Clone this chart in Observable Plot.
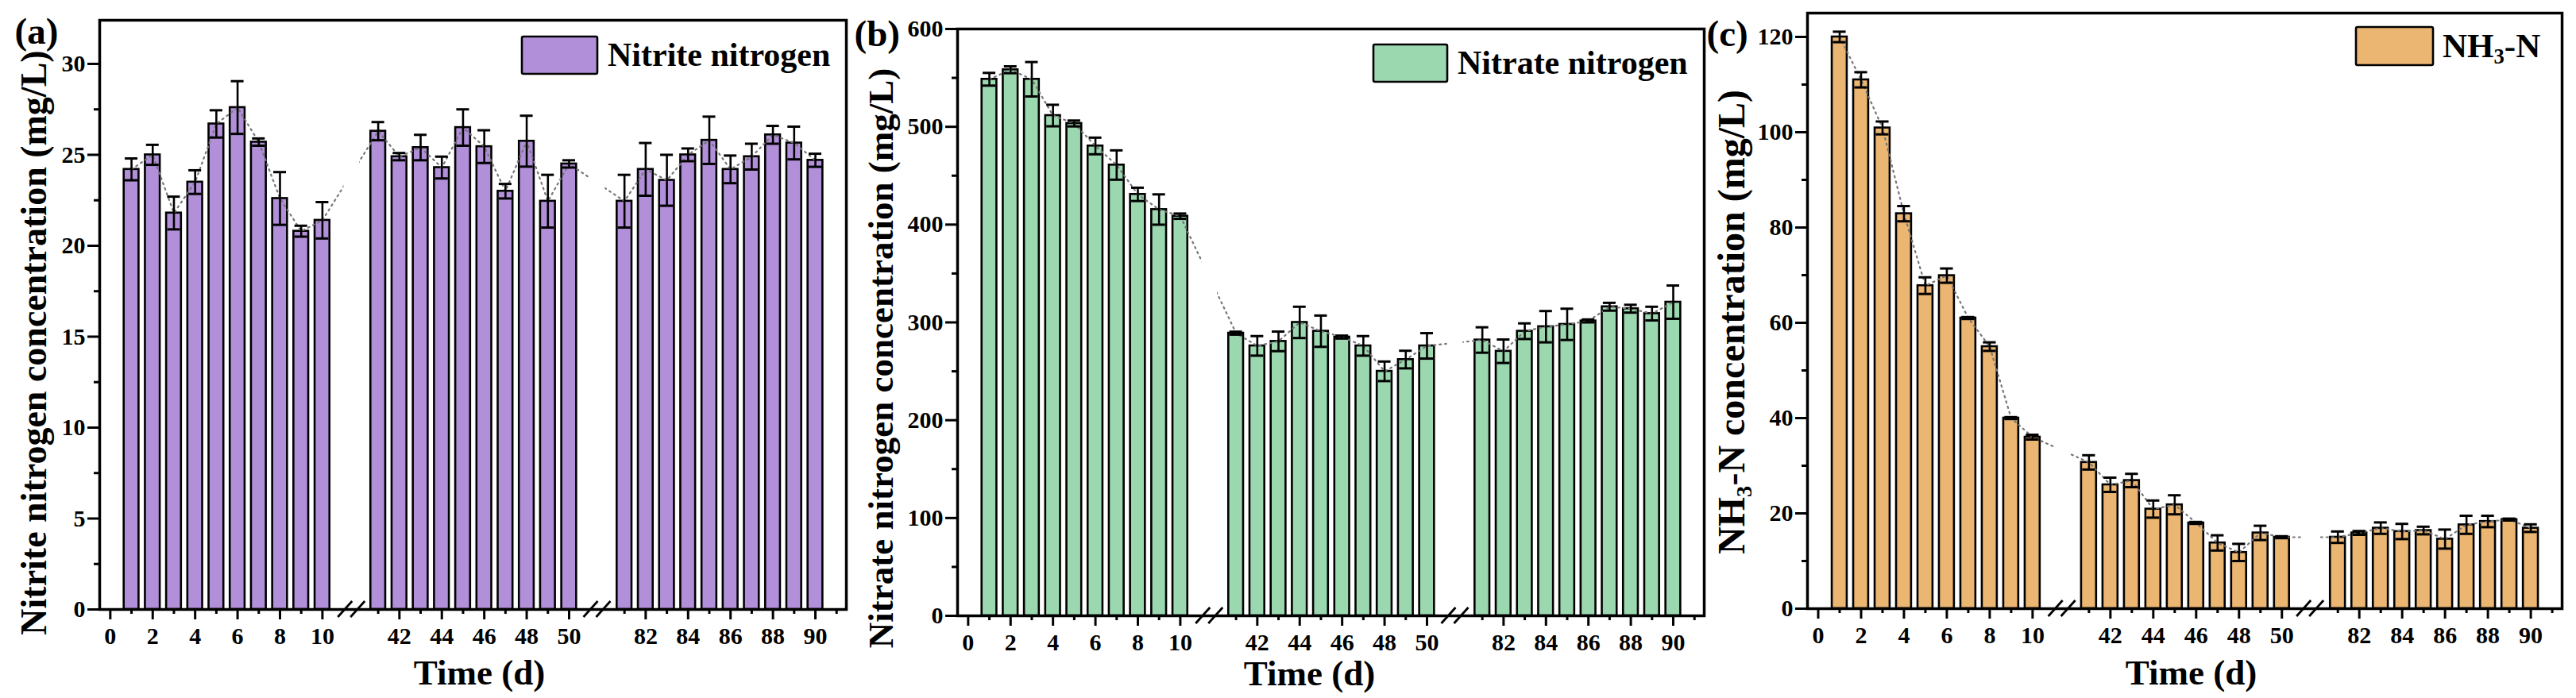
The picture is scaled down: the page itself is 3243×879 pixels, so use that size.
<!DOCTYPE html>
<html>
<head>
<meta charset="utf-8">
<script src="https://cdn.jsdelivr.net/npm/d3@7"></script>
<script src="https://cdn.jsdelivr.net/npm/@observablehq/plot@0.6"></script>
<style>
html,body{margin:0;padding:0;background:#fff;}
#wrap{position:relative;width:3243px;height:879px;overflow:hidden;background:#fff;}
.panel{position:absolute;top:0;}
.panel svg{max-width:none;overflow:visible;}
</style>
</head>
<body>
<div id="wrap"></div>
<script>
// ---------------- data ----------------
const days = [1,2,3,4,5,6,7,8,9,10, 41,42,43,44,45,46,47,48,49,50, 81,82,83,84,85,86,87,88,89,90];

const nitrite    = [24.2,25.0,21.8,23.5,26.7,27.6,25.7,22.6,20.8,21.4, 26.3,24.9,25.4,24.3,26.5,25.45,23.0,25.75,22.45,24.5, 22.45,24.2,23.6,25.0,25.8,24.2,24.9,26.1,25.65,24.7];
const nitriteErr = [0.6,0.55,0.9,0.65,0.75,1.45,0.2,1.45,0.3,1.0, 0.5,0.2,0.7,0.6,1.0,0.9,0.4,1.4,1.45,0.2, 1.45,1.45,1.4,0.35,1.3,0.76,0.71,0.49,0.9,0.36];

const nitrate    = [548.6,558.3,548.6,511.5,503.4,480.4,460.9,430.9,415.4,408.6, 289,276,280.6,300,291,285,276,250,262,276, 282,270.5,291,295.6,298,301.5,316,314,309,320.7];
const nitrateErr = [6.5,3.5,17.6,11,3,8.5,15,6.8,15.5,2.7, 1.5,10,10,16,16,1.5,10,10,9,13, 13,12,8,16,16,1.5,4,4,7,17];

const ammonia    = [120,111,100.9,82.9,67.8,69.9,61,55,40,36, 30.7,26,26.9,20.9,21.8,18,13.8,11.8,15.9,15, 15,15.9,16.9,16.2,16.4,14.6,17.6,18.3,18.7,16.9];
const ammoniaErr = [1.1,1.6,1.35,1.6,1.75,1.5,0.2,0.9,0.2,0.5, 1.5,1.5,1.4,1.8,2.0,0.2,1.6,1.8,1.5,0.2, 1.2,0.4,1.2,1.6,0.8,2.0,1.9,1.2,0.2,0.8];

const xTickLabels = [0,2,4,6,8,10, 42,44,46,48,50, 82,84,86,88,90];
const xMinorDays  = [1,3,5,7,9, 41,43,45,47,49, 81,83,85,87,89,91];

const yTicksA = [0,5,10,15,20,25,30];
const yMinorA = [2.5,7.5,12.5,17.5,22.5,27.5];
const yTicksB = [0,100,200,300,400,500,600];
const yMinorB = [50,150,250,350,450,550];
const yTicksC = [0,20,40,60,80,100,120];
const yMinorC = [10,30,50,70,90,110];

// ---------------- broken-axis layout ----------------
// days of the three sampling windows are laid next to each other on one axis
function pos(d) { return d < 30 ? d : d < 70 ? d - 28.37 : d - 56.76; }
const BREAKS = [11.38, 22.96];
const X_DOMAIN = [-0.5, 34.7];

const FONT = "'Liberation Serif','Times New Roman',Times,serif";

const panels = [
  {
    values: nitrite, errors: nitriteErr, color: "#B18FD9", yMax: 32.4,
    yTicks: yTicksA, yMinor: yMinorA,
    yLabel: "Nitrite nitrogen concentration (mg/L)", tag: "(a)",
    legend: [{t: "Nitrite nitrogen"}],
    left: 0, width: 1080, ml: 125, mr: 15, mt: 25, mb: 112,
    ylab: {dx: -68, dy: 35, fs: 46}, time: {dx: 8, dy: 94}, tagPos: {dx: -107, dy: 29},
    leg: {x: 657, y: 46, w: 95, h: 47, tx: 765, ty: 83, fs: 42}
  },
  {
    values: nitrate, errors: nitrateErr, color: "#9BD8AF", yMax: 600,
    yTicks: yTicksB, yMinor: yMinorB,
    yLabel: "Nitrate nitrogen concentration (mg/L)", tag: "(b)",
    legend: [{t: "Nitrate nitrogen"}],
    left: 1080, width: 1080, ml: 125, mr: 15, mt: 36, mb: 104,
    ylab: {dx: -82, dy: 45, fs: 45}, time: {dx: -27, dy: 87}, tagPos: {dx: -130, dy: 21},
    leg: {x: 649, y: 56, w: 93, h: 47, tx: 755, ty: 93, fs: 42}
  },
  {
    values: ammonia, errors: ammoniaErr, color: "#EBB572", yMax: 125,
    yTicks: yTicksC, yMinor: yMinorC,
    yLabel: "NH\u2083-N concentration (mg/L)", tag: "(c)",
    legend: [{t: "NH"}, {t: "3", sub: true}, {t: "-N", after: true}],
    left: 2150, width: 1093, ml: 125, mr: 18, mt: 16, mb: 113,
    ylab: {dx: -80, dy: 14, fs: 48}, time: {dx: 8, dy: 95}, tagPos: {dx: -127, dy: 41},
    leg: {x: 816, y: 34, w: 97, h: 48, tx: 925, ty: 72, fs: 43}
  }
];

const labelByPos = new Map(xTickLabels.map(d => [pos(d), String(d)]));

const wrap = document.getElementById("wrap");

for (const P of panels) {
  const rows = days.map((d, i) => ({day: d, p: pos(d), v: P.values[i], e: P.errors[i]}));

  const fig = Plot.plot({
    width: P.width,
    height: 879,
    marginLeft: P.ml, marginRight: P.mr, marginTop: P.mt, marginBottom: P.mb,
    style: {fontFamily: FONT, fontSize: "30px", fontWeight: "bold", color: "black", background: "transparent", overflow: "visible"},
    x: {type: "linear", domain: X_DOMAIN},
    y: {type: "linear", domain: [0, P.yMax]},
    marks: [
      Plot.rect(rows, {x1: d => d.p - 0.35, x2: d => d.p + 0.35, y1: 0, y2: "v",
        fill: P.color, stroke: "black", strokeWidth: 2.6}),
      Plot.line(rows, {x: "p", y: "v", stroke: "#777", strokeWidth: 2.2,
        strokeDasharray: "2,5", strokeLinecap: "round"}),
      Plot.ruleX(rows, {x: "p", y1: d => d.v - d.e, y2: d => d.v + d.e, stroke: "black", strokeWidth: 2.6}),
      Plot.ruleY(rows, {y: d => d.v + d.e, x1: d => d.p - 0.3, x2: d => d.p + 0.3, stroke: "black", strokeWidth: 3}),
      Plot.ruleY(rows, {y: d => d.v - d.e, x1: d => d.p - 0.3, x2: d => d.p + 0.3, stroke: "black", strokeWidth: 3}),
      // hide the dotted line where it crosses an axis break
      Plot.rect(BREAKS, {x1: b => b - 0.37, x2: b => b + 0.37, y1: 0, y2: P.yMax, fill: "white"}),
      Plot.frame({stroke: "black", strokeWidth: 3.5}),
      Plot.axisY({ticks: P.yTicks, tickSize: 15, tickPadding: 3, strokeWidth: 3, label: null, fontSize: 30, fontWeight: "bold"}),
      Plot.axisY({ticks: P.yMinor, tickSize: 7, tickFormat: () => "", strokeWidth: 3, label: null}),
      Plot.axisX({ticks: xTickLabels.map(pos), tickSize: 13, tickPadding: 9, strokeWidth: 3, label: null,
        tickFormat: p => labelByPos.get(p) ?? "", fontSize: 30, fontWeight: "bold"}),
      Plot.axisX({ticks: xMinorDays.map(pos), tickSize: 6, tickFormat: () => "", strokeWidth: 3, label: null}),
      Plot.text([P.yLabel], {text: d => d, frameAnchor: "left", rotate: -90, textAnchor: "middle",
        lineAnchor: "bottom", dx: P.ylab.dx, dy: P.ylab.dy, fontSize: P.ylab.fs, fontWeight: "bold", fill: "black"}),
      Plot.text(["Time (d)"], {text: d => d, frameAnchor: "bottom", textAnchor: "middle",
        lineAnchor: "bottom", dx: P.time.dx, dy: P.time.dy, fontSize: 45, fontWeight: "bold", fill: "black"}),
      Plot.text([P.tag], {text: d => d, frameAnchor: "top-left", textAnchor: "start",
        lineAnchor: "bottom", dx: P.tagPos.dx, dy: P.tagPos.dy, fontSize: 47, fontWeight: "bold", fill: "black"})
    ]
  });

  const holder = document.createElement("div");
  holder.className = "panel";
  holder.style.left = P.left + "px";
  holder.style.width = P.width + "px";
  holder.appendChild(fig);
  wrap.appendChild(holder);

  const svg = d3.select(fig);
  // axis-break marks "//"
  const xs = fig.scale("x"), ys = fig.scale("y");
  const gb = svg.append("g").attr("stroke", "black").attr("stroke-width", 2.8);
  for (const b of BREAKS) {
    const bx = xs.apply(b), by = ys.apply(0);
    for (const o of [-8, 8]) {
      gb.append("line").attr("x1", bx + o - 9).attr("y1", by + 10).attr("x2", bx + o + 9).attr("y2", by - 10);
    }
  }
  // legend
  const L = P.leg;
  const gl = svg.append("g");
  gl.append("rect").attr("x", L.x).attr("y", L.y).attr("width", L.w).attr("height", L.h).attr("rx", 2)
    .attr("fill", P.color).attr("stroke", "black").attr("stroke-width", 2.6);
  const t = gl.append("text").attr("x", L.tx).attr("y", L.ty).attr("font-size", L.fs)
    .attr("text-anchor", "start").style("text-anchor", "start")
    .attr("font-weight", "bold").attr("font-family", FONT).attr("fill", "black");
  for (const part of P.legend) {
    const s = t.append("tspan").text(part.t);
    if (part.sub) s.attr("font-size", "0.62em").attr("dy", "0.3em");
    else if (part.after) s.attr("dy", "-0.186em");
  }
}
</script>
</body>
</html>
